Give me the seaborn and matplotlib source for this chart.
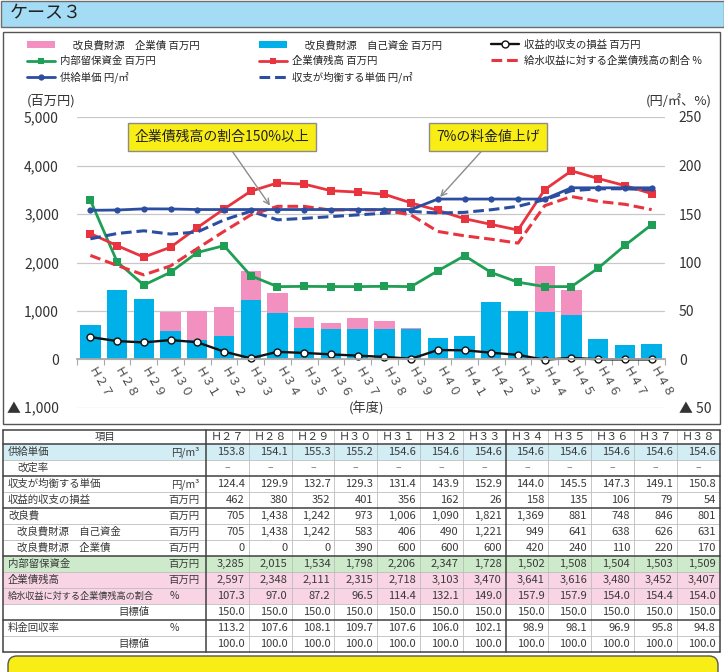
import matplotlib.pyplot as plt
import matplotlib.patches as mpatches
from matplotlib.lines import Line2D
import numpy as np
import pandas as pd
import seaborn as sns

W, H = 724, 672

# --- chart data, H27 - H48 (百万円 / 円/㎡ / %) ---
YEARS = ["Ｈ２７", "Ｈ２８", "Ｈ２９", "Ｈ３０", "Ｈ３１", "Ｈ３２", "Ｈ３３", "Ｈ３４",
         "Ｈ３５", "Ｈ３６", "Ｈ３７", "Ｈ３８", "Ｈ３９", "Ｈ４０", "Ｈ４１", "Ｈ４２",
         "Ｈ４３", "Ｈ４４", "Ｈ４５", "Ｈ４６", "Ｈ４７", "Ｈ４８"]
SELF_FUND = [705, 1438, 1242, 583, 406, 490, 1221, 949, 641, 638, 626, 631,
             620, 437, 484, 1178, 1008, 973, 918, 416, 306, 320]
BOND_FUND = [0, 0, 0, 390, 600, 600, 600, 420, 240, 110, 220, 170,
             20, 0, 0, 0, 0, 960, 520, 0, 0, 0]
PROFIT = [462, 380, 352, 401, 356, 162, 26, 158, 135, 106, 79, 54,
          15, 195, 190, 140, 95, -5, 35, 3, 2, 2]
RESERVE = [3285, 2015, 1534, 1798, 2206, 2347, 1728, 1502, 1508, 1504, 1503, 1509,
           1503, 1828, 2139, 1793, 1594, 1503, 1503, 1884, 2352, 2780]
BOND_BALANCE = [2597, 2348, 2111, 2315, 2718, 3103, 3470, 3641, 3616, 3480, 3452, 3407,
                3228, 3075, 2903, 2785, 2669, 3503, 3890, 3731, 3586, 3420]
BOND_RATIO = [107.3, 97.0, 87.2, 96.5, 114.4, 132.1, 149.0, 157.9, 157.9, 154.0, 154.4, 154.0,
              149.0, 132.0, 127.5, 124.0, 120.0, 158.6, 168.0, 163.0, 160.0, 154.5]
UNIT_PRICE = [153.8, 154.1, 155.3, 155.2, 154.6, 154.6, 154.6, 154.6, 154.6, 154.6, 154.6, 154.6,
              154.6, 165.4, 165.4, 165.4, 165.4, 165.4, 177.0, 177.0, 177.0, 177.0]
BREAKEVEN = [124.4, 129.9, 132.7, 129.3, 131.4, 143.9, 152.9, 144.0, 145.5, 147.3, 149.1, 150.8,
             152.7, 151.0, 151.7, 154.4, 157.9, 164.8, 174.0, 176.0, 176.0, 175.0]

LEFT_TICKS = [-1000, 0, 1000, 2000, 3000, 4000, 5000]
LEFT_LABELS = ["▲ 1,000", "0", "1,000", "2,000", "3,000", "4,000", "5,000"]
RIGHT_TICKS = [-50, 0, 50, 100, 150, 200, 250]
RIGHT_LABELS = ["▲ 50", "0", "50", "100", "150", "200", "250"]

# --- table data, H27 - H38 ---
TABLE_YEARS = ["Ｈ２７", "Ｈ２８", "Ｈ２９", "Ｈ３０", "Ｈ３１", "Ｈ３２",
               "Ｈ３３", "Ｈ３４", "Ｈ３５", "Ｈ３６", "Ｈ３７", "Ｈ３８"]
T_PRICE = [153.8, 154.1, 155.3, 155.2, 154.6, 154.6, 154.6, 154.6, 154.6, 154.6, 154.6, 154.6]
T_REVISION = ["–", "–", "–", "–", "–", "–", "–", "–", "–", "–", "–", "–"]
T_BREAKEVEN = [124.4, 129.9, 132.7, 129.3, 131.4, 143.9, 152.9, 144.0, 145.5, 147.3, 149.1, 150.8]
T_PROFIT = [462, 380, 352, 401, 356, 162, 26, 158, 135, 106, 79, 54]
T_IMPROVE = [705, 1438, 1242, 973, 1006, 1090, 1821, 1369, 881, 748, 846, 801]
T_SELF = [705, 1438, 1242, 583, 406, 490, 1221, 949, 641, 638, 626, 631]
T_BOND = [0, 0, 0, 390, 600, 600, 600, 420, 240, 110, 220, 170]
T_RESERVE = [3285, 2015, 1534, 1798, 2206, 2347, 1728, 1502, 1508, 1504, 1503, 1509]
T_BALANCE = [2597, 2348, 2111, 2315, 2718, 3103, 3470, 3641, 3616, 3480, 3452, 3407]
T_RATIO = [107.3, 97.0, 87.2, 96.5, 114.4, 132.1, 149.0, 157.9, 157.9, 154.0, 154.4, 154.0]
T_RATIO_TARGET = [150.0, 150.0, 150.0, 150.0, 150.0, 150.0, 150.0, 150.0, 150.0, 150.0, 150.0, 150.0]
T_RECOVERY = [113.2, 107.6, 108.1, 109.7, 107.6, 106.0, 102.1, 98.9, 98.1, 96.9, 95.8, 94.8]
T_RECOVERY_TARGET = [100.0, 100.0, 100.0, 100.0, 100.0, 100.0, 100.0, 100.0, 100.0, 100.0, 100.0, 100.0]

# --- colours ---
CYAN = "#00b0e8"
PINK = "#f291c0"
GREEN = "#1f9e55"
RED = "#e8343f"
BLUE = "#2c4ea0"
YELLOW = "#f8ee16"
ROW_BLUE = "#d3edf5"
ROW_GREEN = "#cdeacb"
ROW_PINK = "#f8d4e4"
TXT = "#3a3a3a"


def draw_table(bg):
    rows = [
        ("供給単価", "円/m³", T_PRICE, "{:.1f}", 0, ROW_BLUE),
        ("改定率", "", T_REVISION, None, 1, None),
        ("収支が均衡する単価", "円/m³", T_BREAKEVEN, "{:.1f}", 0, None),
        ("収益的収支の損益", "百万円", T_PROFIT, "{:,}", 0, None),
        ("改良費", "百万円", T_IMPROVE, "{:,}", 0, None),
        ("改良費財源　自己資金", "百万円", T_SELF, "{:,}", 1, None),
        ("改良費財源　企業債", "百万円", T_BOND, "{:,}", 1, None),
        ("内部留保資金", "百万円", T_RESERVE, "{:,}", 0, ROW_GREEN),
        ("企業債残高", "百万円", T_BALANCE, "{:,}", 0, ROW_PINK),
        ("給水収益に対する企業債残高の割合", "%", T_RATIO, "{:.1f}", 0, ROW_PINK),
        ("目標値", "", T_RATIO_TARGET, "{:.1f}", 2, None),
        ("料金回収率", "%", T_RECOVERY, "{:.1f}", 0, None),
        ("目標値", "", T_RECOVERY_TARGET, "{:.1f}", 2, None),
    ]
    left, right = 3, 720
    top, head_h, row_h = 430, 14, 16
    col0, col_w = 206, 42.8
    bottom = top + head_h + row_h * len(rows)

    # header
    bg.text(105, top + head_h / 2, "項目", ha="center", va="center", fontsize=7.5, color=TXT)
    for j, yr in enumerate(TABLE_YEARS):
        bg.text(col0 + col_w * (j + 0.5), top + head_h / 2, yr, ha="center", va="center",
                fontsize=8, color=TXT)

    for i, (label, unit, vals, fmt, indent, fill) in enumerate(rows):
        y0 = top + head_h + row_h * i
        yc = y0 + row_h / 2
        if fill:
            bg.add_patch(mpatches.Rectangle((left, y0), right - left, row_h, fc=fill, ec="none", zorder=1))
        size = 6.6 if len(label) > 12 else 7.5
        if indent == 2:
            bg.text(150, yc, label, ha="right", va="center", fontsize=size, color=TXT, zorder=3)
        else:
            bg.text(8 + 9 * indent, yc, label, ha="left", va="center", fontsize=size, color=TXT, zorder=3)
        if unit == "%":
            bg.text(174, yc, unit, ha="center", va="center", fontsize=7.5, color=TXT, zorder=3)
        elif unit:
            bg.text(199, yc, unit, ha="right", va="center", fontsize=7.5, color=TXT, zorder=3)
        for j, v in enumerate(vals):
            if fmt is None:
                bg.text(col0 + col_w * (j + 0.5), yc, v, ha="center", va="center",
                        fontsize=7.5, color="#777", zorder=3)
            else:
                bg.text(col0 + col_w * (j + 1) - 4, yc, fmt.format(v), ha="right", va="center",
                        fontsize=8, color=TXT, zorder=3)

    # grid lines
    thick_rows = {0, 2, 4, 7, 11}
    for i in range(len(rows)):
        y = top + head_h + row_h * i
        if i in thick_rows:
            bg.plot([left, right], [y, y], color="#404040", lw=1.1, zorder=4)
        else:
            bg.plot([left, right], [y, y], color="#bdbdbd", lw=0.6, zorder=2)
    bg.plot([left, right], [top, top], color="#404040", lw=1.1, zorder=4)
    bg.plot([left, right], [bottom, bottom], color="#404040", lw=1.1, zorder=4)
    for j in range(13):
        x = col0 + col_w * j
        if j in (0, 7, 12):
            bg.plot([x, x], [top, bottom], color="#404040", lw=1.1, zorder=4)
        else:
            bg.plot([x, x], [top, bottom], color="#bdbdbd", lw=0.6, zorder=2)
    bg.plot([left, left], [top, bottom], color="#404040", lw=1.1, zorder=4)
    return bottom


sns.set_theme(style="white")
plt.rcParams["font.family"] = ["Noto Sans CJK JP", "DejaVu Sans"]

fig = plt.figure(figsize=(W / 100, H / 100), dpi=100)

# background layer: title bar, frames, table
bg = fig.add_axes([0, 0, 1, 1], zorder=0)
bg.set_xlim(0, W)
bg.set_ylim(H, 0)
bg.axis("off")
bg.add_patch(mpatches.Rectangle((0.5, 0.5), W - 1, 26, fc="#a4dcf5", ec="#6d6d6d", lw=1))
bg.text(10, 13.5, "ケース３", fontsize=13, ha="left", va="center", color="#222")
bg.add_patch(mpatches.Rectangle((3, 32), 717, 392, fc="white", ec="#555555", lw=1))
table_bottom = draw_table(bg)
bg.add_patch(mpatches.FancyBboxPatch((8, table_bottom + 4), 710, 40,
                                     boxstyle="round,pad=0,rounding_size=9",
                                     fc=YELLOW, ec="#555555", lw=1))

# main chart
ax = fig.add_axes([77 / W, 1 - 408 / H, 588 / W, 291 / H], zorder=1)
ax.set_facecolor("none")

df = pd.DataFrame({"year": YEARS, "self_fund": SELF_FUND, "bond_fund": BOND_FUND})
df["total"] = df["self_fund"] + df["bond_fund"]
sns.barplot(data=df, x="year", y="total", color=PINK, saturation=1, width=0.76, linewidth=0, ax=ax)
sns.barplot(data=df, x="year", y="self_fund", color=CYAN, saturation=1, width=0.76, linewidth=0, ax=ax)

pos = np.arange(len(YEARS))
sns.lineplot(x=pos, y=RESERVE, ax=ax, color=GREEN, marker="s", markersize=5.5,
             markeredgewidth=0, linewidth=2)
sns.lineplot(x=pos, y=BOND_BALANCE, ax=ax, color=RED, marker="s", markersize=5.5,
             markeredgewidth=0, linewidth=2)
sns.lineplot(x=pos, y=PROFIT, ax=ax, color="#111111", marker="o", markersize=5,
             markerfacecolor="white", markeredgecolor="#111111", markeredgewidth=1, linewidth=1.7)

ax.set_xlim(-0.5, len(YEARS) - 0.5)
ax.set_ylim(-1000, 5000)
ax.set_xlabel("")
ax.set_ylabel("")
ax.grid(axis="y", color="#c8c8c8", linewidth=0.9)
ax.grid(axis="x", visible=False)
ax.set_axisbelow(True)
for side in ("left", "right", "top"):
    ax.spines[side].set_visible(False)
ax.spines["bottom"].set_position(("data", 0))
ax.spines["bottom"].set_color("#a8a8a8")
ax.set_yticks(LEFT_TICKS)
ax.set_yticklabels(LEFT_LABELS)
ax.tick_params(axis="y", length=0, pad=13, labelsize=10, labelcolor="#333")
ax.set_xticks(pos)
ax.set_xticklabels(YEARS, rotation=-60, ha="left", va="center", rotation_mode="anchor",
                   fontsize=8.5, color="#444")
ax.tick_params(axis="x", which="major", length=0, pad=6)
ax.set_xticks(np.arange(-0.5, len(YEARS), 1), minor=True)
ax.tick_params(axis="x", which="minor", length=4, color="#a8a8a8", width=0.8, bottom=True)

ax2 = ax.twinx()
sns.lineplot(x=pos, y=BREAKEVEN, ax=ax2, color=BLUE, linestyle=(0, (3.5, 1.6)), linewidth=2.2)
sns.lineplot(x=pos, y=BOND_RATIO, ax=ax2, color=RED, linestyle=(0, (3.5, 1.6)), linewidth=2.2)
sns.lineplot(x=pos, y=UNIT_PRICE, ax=ax2, color=BLUE, marker="o", markersize=4.5,
             markeredgewidth=0, linewidth=2)
ax2.set_ylim(-50, 250)
ax2.set_yticks(RIGHT_TICKS)
ax2.set_yticklabels(RIGHT_LABELS)
ax2.tick_params(axis="y", length=0, pad=10, labelsize=10, labelcolor="#333")
ax2.set_ylabel("")
for side in ("left", "right", "top", "bottom"):
    ax2.spines[side].set_visible(False)

# annotations
box = dict(boxstyle="square,pad=0.5", fc=YELLOW, ec="#8c8c8c", lw=1)
ax2.annotate("企業債残高の割合150%以上", xy=(6.75, 157.5), xycoords="data",
             xytext=(222, H - 137), textcoords="figure pixels", ha="center", va="center",
             fontsize=10, color="#222", bbox=box, zorder=10,
             arrowprops=dict(arrowstyle="->", color="#8c8c8c", lw=1, relpos=(0.53, 0),
                             shrinkA=0, shrinkB=1))
ax2.annotate("7%の料金値上げ", xy=(13.05, 166.5), xycoords="data",
             xytext=(488, H - 137), textcoords="figure pixels", ha="center", va="center",
             fontsize=10, color="#222", bbox=box, zorder=10,
             arrowprops=dict(arrowstyle="->", color="#8c8c8c", lw=1, relpos=(0.5, 0),
                             shrinkA=0, shrinkB=1))

# axis captions
fig.text(27 / W, 1 - 101 / H, "(百万円)", fontsize=9.5, ha="left", va="center", color="#333")
fig.text(712 / W, 1 - 101 / H, "(円/㎡、%)", fontsize=9.5, ha="right", va="center", color="#333")
fig.text(366 / W, 1 - 409 / H, "(年度)", fontsize=9.5, ha="center", va="center", color="#333",
         bbox=dict(fc="white", ec="none", pad=1))

# legend, one block per column
h_pink = mpatches.Patch(fc=PINK, ec="none")
h_cyan = mpatches.Patch(fc=CYAN, ec="none")
h_black = Line2D([], [], color="#111111", marker="o", markerfacecolor="white", markersize=5, lw=1.7)
h_green = Line2D([], [], color=GREEN, marker="s", markersize=5, markeredgewidth=0, lw=2)
h_red = Line2D([], [], color=RED, marker="s", markersize=5, markeredgewidth=0, lw=2)
h_rdash = Line2D([], [], color=RED, linestyle=(0, (3.5, 1.6)), lw=2.2)
h_blue = Line2D([], [], color=BLUE, marker="o", markersize=4.5, markeredgewidth=0, lw=2)
h_bdash = Line2D([], [], color=BLUE, linestyle=(0, (3.5, 1.6)), lw=2.2)
leg_kw = dict(frameon=False, fontsize=7.5, handlelength=2.7, handletextpad=0.5,
              labelspacing=0.55, borderaxespad=0, borderpad=0, loc="upper left")
fig.legend([h_pink, h_green, h_blue],
           ["　 改良費財源　企業債 百万円", "内部留保資金 百万円", "供給単価 円/㎡"],
           bbox_to_anchor=(27 / W, 1 - 40 / H), **leg_kw)
fig.legend([h_cyan, h_red, h_bdash],
           ["　 改良費財源　自己資金 百万円", "企業債残高 百万円", "収支が均衡する単価 円/㎡"],
           bbox_to_anchor=(259 / W, 1 - 40 / H), **leg_kw)
fig.legend([h_black, h_rdash],
           ["収益的収支の損益 百万円", "給水収益に対する企業債残高の割合 %"],
           bbox_to_anchor=(491 / W, 1 - 40 / H), **leg_kw)

fig.savefig("out.png", dpi=100)
